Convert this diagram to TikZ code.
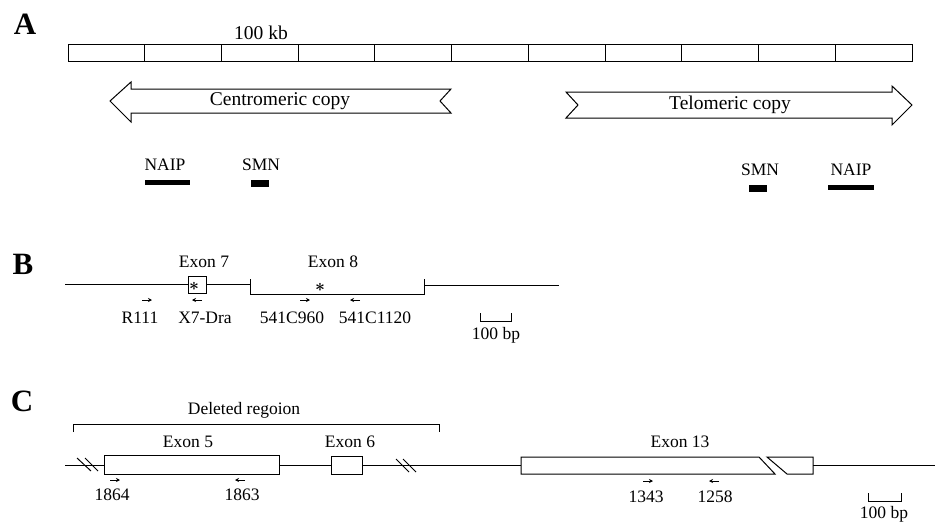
\documentclass[tikz,border=0pt]{standalone}
\usepackage{fontspec}
\setmainfont{Liberation Serif}
\usetikzlibrary{arrows.meta}
\begin{document}
\begin{tikzpicture}[x=1pt,y=-1pt,
  every node/.style={inner sep=0pt,font=\fontsize{17.5}{20}\selectfont},
  panel/.style={font=\fontsize{31}{32}\selectfont\bfseries},
  bigtxt/.style={font=\fontsize{19.5}{22}\selectfont},
  ln/.style={line width=1pt,line join=miter},
  primer/.style={line width=0.8pt,-{Stealth[length=4pt,width=4pt]}},
  ast/.style={font=\fontsize{18}{18}\selectfont\boldmath}
]
\useasboundingbox (0,0) rectangle (935,525);
% ---------------- Panel A ----------------
\node[panel] (A) at (25,24) {A};
\draw[ln] (68,44) rectangle (912,61);
\foreach \i in {1,...,10}{\draw[ln] ({68+\i*76.73},44) -- ({68+\i*76.73},61);}
\node[bigtxt] (kb) at (261,33) {100 kb};
\draw[ln] (110,101) -- (131,82) -- (131,89) -- (451,89) -- (440,101) -- (451,113) -- (131,113) -- (131,122) -- cycle;
\node[bigtxt] (cen) at (280,101) {Centromeric copy};
\draw[ln] (566,92) -- (892,92) -- (892,86) -- (912,105) -- (892,125) -- (892,118) -- (566,118) -- (578,105) -- cycle;
\node[bigtxt] (tel) at (730,105) {Telomeric copy};
\node (naipL) at (165,165) {NAIP};
\fill (145,180) rectangle (190,185);
\node (smnL) at (261,165) {SMN};
\fill (251,180) rectangle (269,187);
\node (smnR) at (760,170) {SMN};
\fill (749,185) rectangle (767,192);
\node (naipR) at (851,170) {NAIP};
\fill (828,185) rectangle (874,190);
% ---------------- Panel B ----------------
\node[panel] (B) at (23,264) {B};
\draw[ln] (65,284) -- (188,284);
\draw[ln] (188,276) rectangle (206,293);
\draw[ln] (206,284) -- (250,284);
\draw[ln] (250,279) -- (250,294) -- (424,294) -- (424,279);
\draw[ln] (424,285) -- (559,285);
\node[ast] (a7) at (194,286) {$\ast$};
\node[ast] (a8) at (320,287) {$\ast$};
\node (e7) at (204,262) {Exon 7};
\node (e8) at (333,262) {Exon 8};
\draw[primer] (142,300) -- (152,300);
\draw[primer] (202,300) -- (192,300);
\draw[primer] (300,300) -- (310,300);
\draw[primer] (360,300) -- (350,300);
\node (r111) at (140,318) {R111};
\node (x7) at (205,318) {X7-Dra};
\node (p960) at (292,318) {541C960};
\node (p1120) at (375,318) {541C1120};
\draw[line width=0.8pt] (480,313) -- (480,321) -- (511,321) -- (511,313);
\node (sbB) at (496,335) {100 bp};
% ---------------- Panel C ----------------
\node[panel] (C) at (22,401) {C};
\node (del) at (244,410) {Deleted regoion};
\draw[ln] (73,432) -- (73,424) -- (439,424) -- (439,432);
\node (e5) at (188,442) {Exon 5};
\node (e6) at (350,442) {Exon 6};
\node (e13) at (680,442) {Exon 13};
\draw[ln] (65,465) -- (104,465);
\draw[ln] (77,458) -- (91,471);
\draw[ln] (85,458) -- (98,471);
\draw[ln] (104,455) rectangle (279,474);
\draw[ln] (279,465) -- (331,465);
\draw[ln] (331,456) rectangle (362,474);
\draw[ln] (362,465) -- (521,465);
\draw[ln] (396,459) -- (409,472);
\draw[ln] (403,459) -- (416,472);
\draw[ln] (521,457) -- (759,457) -- (775,474) -- (521,474) -- cycle;
\draw[ln] (767,457) -- (813,457) -- (813,474) -- (787,474) -- cycle;
\draw[ln] (813,465) -- (935,465);
\draw[primer] (110,480) -- (120,480);
\draw[primer] (245,480) -- (235,480);
\draw[primer] (643,481) -- (653,481);
\draw[primer] (719,481) -- (709,481);
\node (p1864) at (112,495) {1864};
\node (p1863) at (242,495) {1863};
\node (p1343) at (646,497) {1343};
\node (p1258) at (715,497) {1258};
\draw[line width=0.8pt] (868,493) -- (868,501) -- (901,501) -- (901,493);
\node (sbC) at (884,514) {100 bp};
\end{tikzpicture}
\end{document}
